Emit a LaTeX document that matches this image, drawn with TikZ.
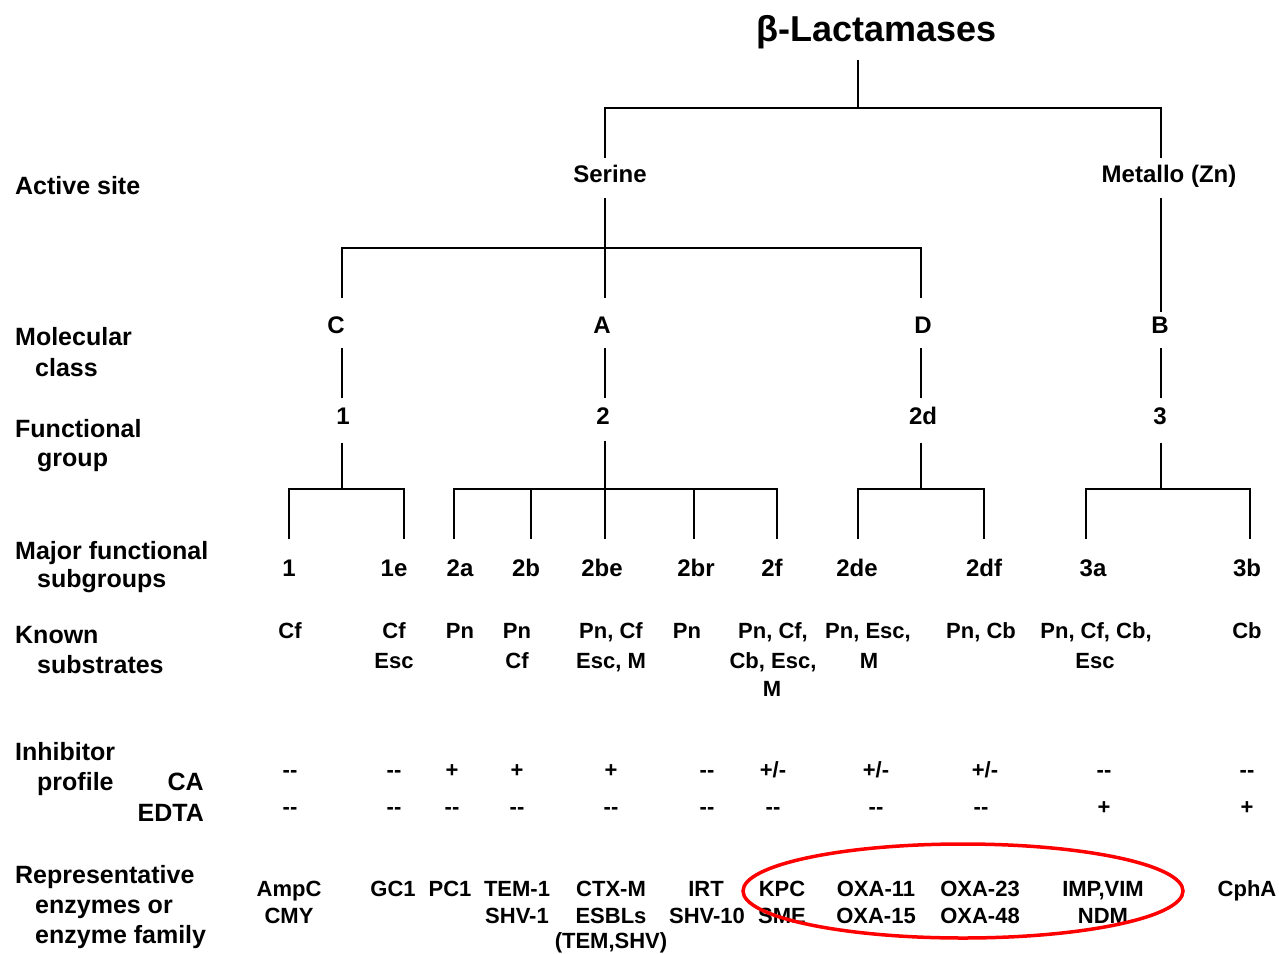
\documentclass[tikz,border=0pt]{standalone}
\usepackage{fontspec}
\setmainfont{Liberation Sans}
\usetikzlibrary{shapes.geometric}
\begin{document}
\begin{tikzpicture}[x=1pt,y=-1pt,
  conn/.style={line width=2pt, black},
  tlab/.style={font=\fontsize{24}{28}\selectfont\bfseries, inner sep=0pt, text height=17.2pt, text depth=0pt, anchor=south},
  lab/.style={font=\fontsize{25}{30}\selectfont\bfseries, inner sep=0pt, anchor=base west},
  labr/.style={font=\fontsize{25}{30}\selectfont\bfseries, inner sep=0pt, anchor=base east},
  dat/.style={font=\fontsize{22}{26}\selectfont\bfseries, inner sep=0pt, anchor=base}]
\useasboundingbox (0,0) rectangle (1279,953);

% title
\node[font=\fontsize{36}{40}\selectfont\bfseries, inner sep=0pt, text height=26pt, text depth=0pt, anchor=south] (title) at (877,42) {β-Lactamases};

% left labels
\node[lab] (la1) at (15,194) {Active site};
\node[lab] (lb1) at (15,345) {Molecular};
\node[lab] (lb2) at (35,376) {class};
\node[lab] (lc1) at (15,437) {Functional};
\node[lab] (lc2) at (37,466) {group};
\node[lab] (ld1) at (15,559) {Major functional};
\node[lab] (ld2) at (37,587) {subgroups};
\node[lab] (le1) at (15,643) {Known};
\node[lab] (le2) at (37,673) {substrates};
\node[lab] (lf1) at (15,760) {Inhibitor};
\node[lab] (lf2) at (37,790) {profile};
\node[labr] (lf3) at (204,790) {CA};
\node[labr] (lf4) at (204,821) {EDTA};
\node[lab] (lg1) at (15,883) {Representative};
\node[lab] (lg2) at (35,913) {enzymes or};
\node[lab] (lg3) at (35,943) {enzyme family};

% tree labels
\node[tlab] (ser) at (610,183) {Serine};
\node[tlab] (met) at (1169,183) {Metallo (Zn)};
\node[tlab] (C) at (336,333.5) {C};
\node[tlab] (A) at (602,333.5) {A};
\node[tlab] (D) at (923,333.5) {D};
\node[tlab] (B) at (1160,333.5) {B};
\node[tlab] (g1) at (343,424.5) {1};
\node[tlab] (g2) at (603,424.5) {2};
\node[tlab] (g2d) at (923,424.5) {2d};
\node[tlab] (g3) at (1160,424.5) {3};
\foreach \n/\x/\t in {s1/289/1, s1e/394/1e, s2a/460/2a, s2b/526/2b, s2be/602/2be, s2br/696/2br, s2f/772/2f, s2de/857/2de, s2df/984/2df, s3a/1093/3a, s3b/1247/3b}
  \node[tlab] (\n) at (\x,577) {\t};

% junction coordinates
\coordinate (j0) at (858,108);
\coordinate (jS) at (605,108);
\coordinate (jM) at (1161,108);
\coordinate (jL) at (342,248);
\coordinate (jR) at (921,248);
\coordinate (b1) at (342,489);
\coordinate (b2) at (605,489);
\coordinate (b2d) at (921,489);
\coordinate (b3) at (1161,489);
\coordinate (v1) at (289,489);
\coordinate (v1e) at (404,489);
\coordinate (v2a) at (454,489);
\coordinate (v2b) at (531,489);
\coordinate (v2br) at (694,489);
\coordinate (v2f) at (777,489);
\coordinate (v2de) at (858,489);
\coordinate (v2df) at (984,489);
\coordinate (v3a) at (1086,489);
\coordinate (v3b) at (1250,489);

% connectors
\draw[conn, shorten <=18pt] (j0 |- title.south) -- (j0);
\draw[conn, shorten <=7pt, shorten >=7pt] (jS |- ser.north) -- (jS) -- (jM) -- (jM |- met.north);
\draw[conn, shorten <=15pt, shorten >=18pt] (jS |- ser.south) -- (jS |- A.north);
\draw[conn, shorten <=18pt, shorten >=18pt] (jL |- C.north) -- (jL) -- (jR) -- (jR |- D.north);
\draw[conn, shorten <=15pt, shorten >=4pt] (jM |- met.south) -- (jM |- B.north);
\foreach \a/\b/\c in {C/g1/jL, A/g2/jS, D/g2d/jR, B/g3/jM}
  \draw[conn, shorten <=14.5pt, shorten >=9pt] (\c |- \a.south) -- (\c |- \b.north);
\draw[conn, shorten <=18pt] (b1 |- g1.south) -- (b1);
\draw[conn, shorten <=16pt, shorten >=20pt] (b2 |- g2.south) -- (b2 |- s2be.north);
\draw[conn, shorten <=18pt] (b2d |- g2d.south) -- (b2d);
\draw[conn, shorten <=18pt] (b3 |- g3.south) -- (b3);
\draw[conn, shorten <=20pt, shorten >=20pt] (v1 |- s1.north) -- (v1) -- (v1e) -- (v1e |- s1e.north);
\draw[conn, shorten <=20pt, shorten >=20pt] (v2a |- s2a.north) -- (v2a) -- (v2f) -- (v2f |- s2f.north);
\draw[conn, shorten >=20pt] (v2b) -- (v2b |- s2b.north);
\draw[conn, shorten >=20pt] (v2br) -- (v2br |- s2br.north);
\draw[conn, shorten <=20pt, shorten >=20pt] (v2de |- s2de.north) -- (v2de) -- (v2df) -- (v2df |- s2df.north);
\draw[conn, shorten <=20pt, shorten >=20pt] (v3a |- s3a.north) -- (v3a) -- (v3b) -- (v3b |- s3b.north);

% known substrates
\foreach \n/\x/\y/\t in {k1/290/638/Cf, k2/394/638/Cf, k3/394/668/Esc, k4/460/638/Pn,
  k5/517/638/Pn, k6/517/668/Cf, k7/611/638/{Pn, Cf}, k8/611/668/{Esc, M}, k9/687/638/Pn,
  k10/773/638/{Pn, Cf,}, k11/773/668/{Cb, Esc,}, k12/772/696/M, k13/868/638/{Pn, Esc,},
  k14/869/668/M, k15/981/638/{Pn, Cb}, k16/1096/638/{Pn, Cf, Cb,}, k17/1095/668/Esc, k18/1247/638/Cb}
  \node[dat] (\n) at (\x,\y) {\t};

% inhibitor profile
\foreach \n/\x/\t in {c1/290/{-{}-}, c2/394/{-{}-}, c3/452/{+}, c4/517/{+}, c5/611/{+}, c6/707/{-{}-},
  c7/773/{+/-}, c8/876/{+/-}, c9/985/{+/-}, c10/1104/{-{}-}, c11/1247/{-{}-}}
  \node[dat] (\n) at (\x,777) {\t};
\foreach \n/\x/\t in {e1/290/{-{}-}, e2/394/{-{}-}, e3/452/{-{}-}, e4/517/{-{}-}, e5/611/{-{}-}, e6/707/{-{}-},
  e7/773/{-{}-}, e8/876/{-{}-}, e9/981/{-{}-}, e10/1104/{+}, e11/1247/{+}}
  \node[dat] (\n) at (\x,814) {\t};

% representative enzymes
\foreach \n/\x/\y/\t in {r1/289/896/AmpC, r2/289/923/CMY, r3/393/896/GC1, r4/450/896/PC1,
  r5/517/896/TEM-1, r6/517/923/SHV-1, r7/611/896/CTX-M, r8/611/923/ESBLs, r9/611/948/{(TEM,SHV)},
  r10/706/896/IRT, r11/707/923/SHV-10, r12/782/896/KPC, r13/782/923/SME,
  r14/876/896/OXA-11, r15/876/923/OXA-15, r16/980/896/OXA-23, r17/980/923/OXA-48,
  r18/1103/896/{IMP,VIM}, r19/1103/923/NDM, r20/1247/896/CphA}
  \node[dat] (\n) at (\x,\y) {\t};

% highlight
\node[draw=red, line width=3.5pt, ellipse, minimum width=440pt, minimum height=94pt, inner sep=0pt] (hl) at (963,891) {};
\end{tikzpicture}
\end{document}
